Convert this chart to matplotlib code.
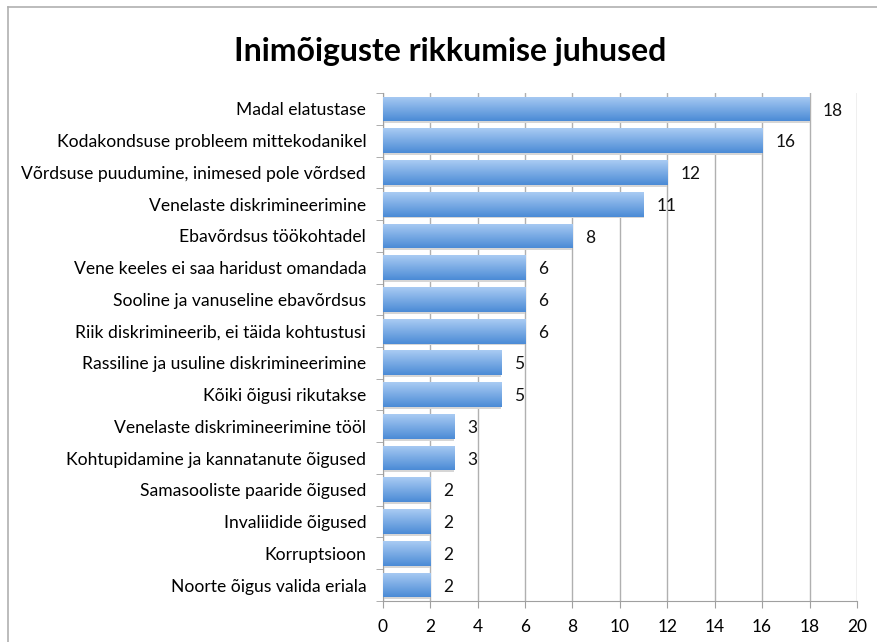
import numpy as np
import matplotlib
matplotlib.use("Agg")
import matplotlib.pyplot as plt
from matplotlib.patches import Rectangle

categories = ["Madal elatustase", "Kodakondsuse probleem mittekodanikel",
              "Võrdsuse puudumine, inimesed pole võrdsed", "Venelaste diskrimineerimine",
              "Ebavõrdsus töökohtadel", "Vene keeles ei saa haridust omandada",
              "Sooline ja vanuseline ebavõrdsus", "Riik diskrimineerib, ei täida kohtustusi",
              "Rassiline ja usuline diskrimineerimine", "Kõiki õigusi rikutakse",
              "Venelaste diskrimineerimine tööl", "Kohtupidamine ja kannatanute õigused",
              "Samasooliste paaride õigused", "Invaliidide õigused", "Korruptsioon",
              "Noorte õigus valida eriala"]
values = [18, 16, 12, 11, 8, 6, 6, 6, 5, 5, 3, 3, 2, 2, 2, 2]
xticks = [0, 2, 4, 6, 8, 10, 12, 14, 16, 18, 20]

plt.rcParams['font.family'] = ['Lato', 'DejaVu Sans']

fig = plt.figure(figsize=(8.78, 6.42), dpi=100)
ax = fig.add_axes([0.436, 0.064, 0.54, 0.791])

ypos = np.arange(len(values))[::-1]
h = 0.78
grad = np.linspace(0, 1, 64).reshape(-1, 1)
cmap = matplotlib.colors.LinearSegmentedColormap.from_list("b", ["#a9cbf3", "#4b8bd6"])

for y, v in zip(ypos, values):
    # soft shadow under the bar
    ax.add_patch(Rectangle((0, y - h / 2 - 0.06), v, h, color="#d6d6d6", zorder=2, lw=0))
    bar = ax.barh(y, v, height=h, color="none", zorder=3)[0]
    im = ax.imshow(grad, cmap=cmap, aspect="auto", extent=[0, v, y - h / 2, y + h / 2],
                   origin="upper", zorder=3)
    im.set_clip_path(bar)
    ax.text(v + 0.55, y - 0.05, str(v), va="center", ha="left", fontsize=12.5, color="#111111", zorder=4)

ax.set_xlim(0, 20)
ax.set_ylim(-0.5, len(values) - 0.5)
ax.set_xticks(xticks)
ax.set_yticks(ypos)
ax.set_yticklabels(categories)
ax.set_yticks(np.arange(len(values) + 1) - 0.5, minor=True)
ax.tick_params(axis="y", which="major", length=0, pad=12, labelsize=12.6)
ax.tick_params(axis="y", which="minor", length=5, color="#a0a0a0")
ax.tick_params(axis="x", length=5, color="#a0a0a0", labelsize=12.5, pad=8)
ax.grid(axis="x", color="#b0b0b0", lw=1, zorder=1)
ax.set_axisbelow(True)
for s in ["top", "right"]:
    ax.spines[s].set_visible(False)
for s in ["left", "bottom"]:
    ax.spines[s].set_color("#a0a0a0")

fig.text(0.513, 0.92, "Inimõiguste rikkumise juhused", ha="center", va="center",
         fontsize=23, fontweight="bold")

# figure border (top and left)
fig.add_artist(plt.Line2D([0.009, 1], [0.989, 0.989], color="#b0b0b0", lw=1.2, transform=fig.transFigure))
fig.add_artist(plt.Line2D([0.009, 0.009], [0, 0.989], color="#b0b0b0", lw=1.2, transform=fig.transFigure))

plt.savefig("out.png", dpi=100)
